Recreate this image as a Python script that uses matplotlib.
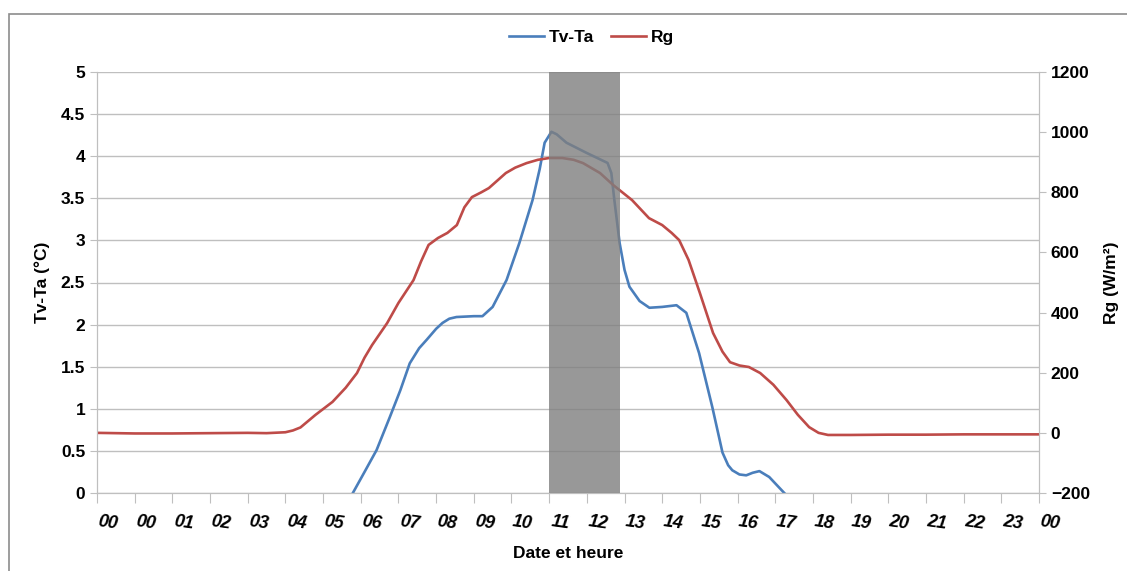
import numpy as np
import matplotlib
matplotlib.use("Agg")
import matplotlib.pyplot as plt
import matplotlib.transforms as mtransforms
from matplotlib.patches import Rectangle

plt.rcParams["font.family"] = ["Liberation Sans", "DejaVu Sans"]

# heures (axe de -1 a 24)
t_rg = [-1, 0, 1, 2, 3, 3.5, 4.0, 4.2, 4.4, 4.8, 5.25, 5.6, 5.9, 6.1, 6.3, 6.7, 7.0, 7.4,
        7.6, 7.8, 8.05, 8.3, 8.55, 8.75, 8.95, 9.2, 9.4, 9.85, 10.1, 10.4, 10.7, 11.0,
        11.35, 11.65, 11.9, 12.35, 12.7, 13.2, 13.65, 14.0, 14.25, 14.45, 14.7, 15.0,
        15.35, 15.6, 15.8, 16.05, 16.3, 16.6, 16.95, 17.3, 17.6, 17.9, 18.15, 18.4,
        19, 20, 21, 22, 23, 24]
rg = [0, -2, -2, -1, 0, -1, 2, 8, 18, 60, 103, 150, 199, 250, 292, 365, 432, 508,
      570, 625, 648, 665, 691, 750, 784, 800, 814, 864, 882, 897, 908, 914,
      914, 908, 897, 864, 824, 774, 714, 691, 665, 641, 575, 465,
      332, 270, 235, 224, 219, 199, 160, 109, 60, 19, 0, -7,
      -7, -6, -6, -5, -5, -5]

t_dt = [5.79, 6.1, 6.42, 6.77, 7.05, 7.30, 7.55, 7.75, 8.0, 8.17, 8.35, 8.54, 9.0, 9.23,
        9.50, 9.87, 10.21, 10.56, 10.75, 10.88, 11.06, 11.2, 11.46, 11.99, 12.41, 12.55,
        12.65, 12.73, 12.87, 13.0, 13.13, 13.4, 13.66, 14.0, 14.38, 14.64, 14.98, 15.33,
        15.60, 15.75, 15.86, 16.05, 16.23, 16.4, 16.58, 16.84, 17.24]
dt = [0.0, 0.25, 0.51, 0.90, 1.22, 1.54, 1.72, 1.82, 1.95, 2.02, 2.07, 2.09, 2.10, 2.10,
      2.21, 2.53, 2.97, 3.48, 3.85, 4.16, 4.29, 4.26, 4.16, 4.04, 3.95, 3.92,
      3.80, 3.48, 2.97, 2.65, 2.45, 2.28, 2.20, 2.21, 2.23, 2.14, 1.66, 1.02,
      0.48, 0.33, 0.27, 0.22, 0.21, 0.24, 0.26, 0.19, 0.0]

tick_pos = list(range(-1, 25))
tick_lab = ["00"] + ["%02d" % h for h in range(0, 24)] + ["00"]
zone = (11.0, 12.88)

blue = "#4a7ebb"
red = "#be4b48"
grid = "#bfbfbf"

fig = plt.figure(figsize=(11.27, 5.71), dpi=100)
ax = fig.add_axes([97 / 1127, 1 - 493 / 571, 942 / 1127, 421 / 571])
ax2 = ax.twinx()

# cadre exterieur
fig.patches.append(Rectangle((9 / 1127, -0.05), 1.1, 1 - 14 / 571 + 0.05,
                             transform=fig.transFigure, fill=False,
                             edgecolor="#8c8c8c", linewidth=1.2))

l1, = ax.plot(t_dt, dt, color=blue, lw=1.9, label="Tv-Ta")
l2, = ax2.plot(t_rg, rg, color=red, lw=1.9, label="Rg")
ax2.axvspan(zone[0], zone[1], color="#7f7f7f", alpha=0.8, lw=0, zorder=5)

ax.set_yticks(np.arange(0, 5.01, 0.5))
ax.set_yticklabels(["0", "0.5", "1", "1.5", "2", "2.5", "3", "3.5", "4", "4.5", "5"])
ax2.set_yticks(np.arange(-200, 1201, 200))
ax.yaxis.grid(True, color=grid, lw=1)
ax.set_axisbelow(True)

ax.set_xticks(tick_pos)
ax.set_xticklabels([""] * len(tick_pos))
ax.set_xlim(-1, 24)
ax.set_ylim(0, 5)
ax2.set_ylim(-200, 1200)

# etiquettes de l'axe x : decalees a droite et inclinees (comme dans Excel)
off = mtransforms.ScaledTranslation(0.11, -0.30, fig.dpi_scale_trans)
for p, lab in zip(tick_pos, tick_lab):
    ax.text(p, 0, lab, transform=ax.get_xaxis_transform() + off, fontsize=13,
            fontstyle="italic", fontweight="bold", rotation=-8, rotation_mode="anchor",
            ha="center", va="center", clip_on=False)

for a in (ax, ax2):
    for s in a.spines.values():
        s.set_color(grid)
    a.spines["top"].set_visible(False)
    a.tick_params(colors=grid, labelcolor="black", labelsize=12.5, length=5)
ax.tick_params(axis="x", length=7)
for lab in ax.get_yticklabels() + ax2.get_yticklabels():
    lab.set_fontweight("bold")

ax.set_ylabel("Tv-Ta (°C)", fontsize=12.5, fontweight="bold", labelpad=8)
ax2.set_ylabel("Rg (W/m²)", fontsize=12.5, fontweight="bold", labelpad=10)
ax.set_xlabel("Date et heure", fontsize=12.5, fontweight="bold", labelpad=28)

fig.legend([l1, l2], ["Tv-Ta", "Rg"], loc="center", bbox_to_anchor=(0.525, 1 - 37 / 571),
           ncol=2, frameon=False, handlelength=2.0, columnspacing=1.0, handletextpad=0.3,
           prop={"weight": "bold", "size": 12.5})

fig.savefig("out.png", dpi=100)
